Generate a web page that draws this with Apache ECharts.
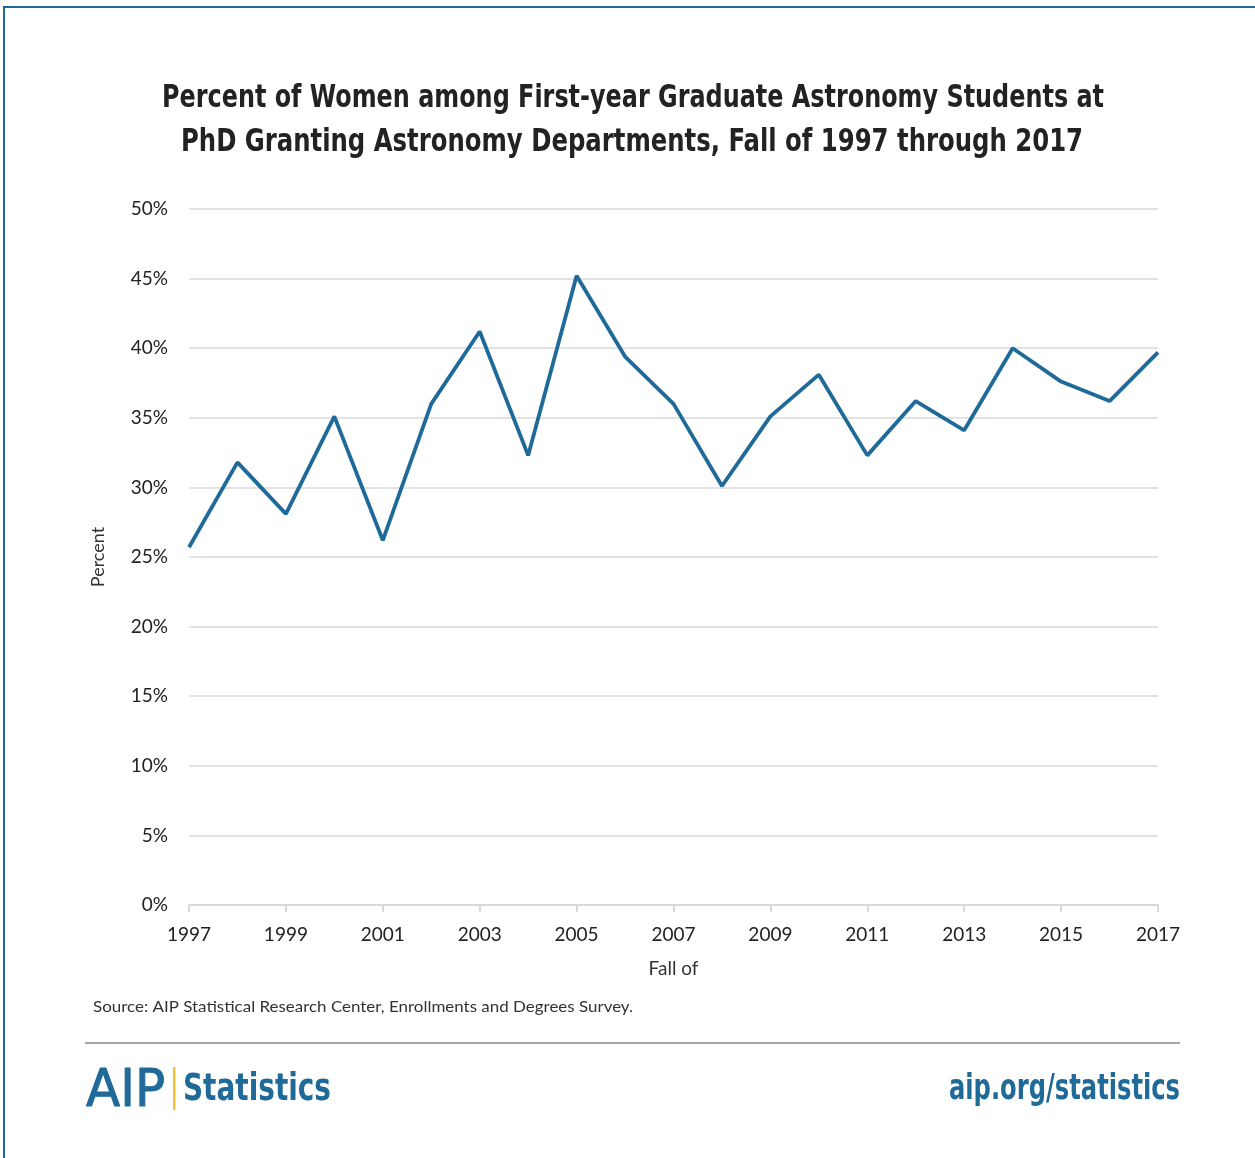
<!DOCTYPE html>
<html>
<head>
<meta charset="utf-8">
<script src="https://cdn.jsdelivr.net/npm/echarts@6/dist/echarts.min.js"></script>
<style>
  html, body { margin: 0; padding: 0; background: #fff; }
  #chart { width: 1255px; height: 1158px; }
</style>
</head>
<body>
<div id="chart"></div>
<script>
// Fall enrollment years
const years = ['1997','1998','1999','2000','2001','2002','2003','2004','2005','2006','2007',
               '2008','2009','2010','2011','2012','2013','2014','2015','2016','2017'];
// Percent of women among first-year graduate astronomy students
const womenPct = [25.7, 31.8, 28.1, 35.1, 26.2, 36.0, 41.2, 32.3, 45.2, 39.4, 36.0,
                  30.1, 35.1, 38.1, 32.3, 36.2, 34.1, 40.0, 37.6, 36.2, 39.7];

const titleLines = [
  'Percent of Women among First-year Graduate Astronomy Students at',
  'PhD Granting Astronomy Departments, Fall of 1997 through 2017'
];
const sourceText = 'Source: AIP Statistical Research Center, Enrollments and Degrees Survey.';

const blue = '#1f6a99';
const condensed = '"DejaVu Sans Condensed", "DejaVu Sans", sans-serif';
const bodyFont = 'Lato, "Open Sans", sans-serif';

// Horizontal squeeze so a condensed-style heading spans the wanted width
const measureCtx = document.createElement('canvas').getContext('2d');
function squeeze(text, font, width) {
  measureCtx.font = font;
  return width / measureCtx.measureText(text).width;
}

const titleFont = 'bold 32px ' + condensed;
const aipFont = '51px "DejaVu Sans", sans-serif';
const statFont = 'bold 37px ' + condensed;
const urlFont = 'bold 35px ' + condensed;

const chart = echarts.init(document.getElementById('chart'));
chart.setOption({
  animation: false,
  backgroundColor: '#fff',
  grid: { left: 189, right: 97, top: 209, bottom: 253, containLabel: false },
  xAxis: {
    type: 'category',
    data: years,
    boundaryGap: false,
    name: 'Fall of',
    nameLocation: 'middle',
    nameGap: 54,
    nameTextStyle: { fontFamily: bodyFont, fontSize: 19, color: '#333' },
    axisLine: { lineStyle: { color: '#d9d9d9', width: 2 } },
    axisTick: { interval: 1, length: 7, lineStyle: { color: '#d9d9d9', width: 2 } },
    axisLabel: { interval: 1, fontFamily: bodyFont, fontSize: 19, color: '#222', margin: 20 }
  },
  yAxis: {
    type: 'value',
    min: 0, max: 50, interval: 5,
    name: 'Percent',
    nameLocation: 'middle',
    nameGap: 82,
    nameRotate: 90,
    nameTextStyle: { fontFamily: bodyFont, fontSize: 18, color: '#333' },
    axisLine: { show: false },
    axisTick: { show: false },
    axisLabel: { formatter: '{value}%', fontFamily: bodyFont, fontSize: 19, color: '#222', margin: 21 },
    splitLine: { lineStyle: { color: '#d9d9d9', width: 1.5 } }
  },
  series: [{
    type: 'line',
    data: womenPct,
    symbol: 'none',
    lineStyle: { color: blue, width: 3.8 },
    itemStyle: { color: blue }
  }],
  graphic: [
    // frame
    { type: 'line', shape: { x1: 3, y1: 7, x2: 1255, y2: 7 }, style: { stroke: blue, lineWidth: 2 } },
    { type: 'line', shape: { x1: 4, y1: 6, x2: 4, y2: 1158 }, style: { stroke: blue, lineWidth: 2 } },
    // title
    { type: 'text', x: 633, y: 83, scaleX: squeeze(titleLines[0], titleFont, 942),
      style: { text: titleLines[0], font: titleFont, fill: '#222', align: 'center', verticalAlign: 'top' } },
    { type: 'text', x: 632, y: 127, scaleX: squeeze(titleLines[1], titleFont, 902),
      style: { text: titleLines[1], font: titleFont, fill: '#222', align: 'center', verticalAlign: 'top' } },
    // source note
    { type: 'text', x: 93, y: 999, scaleX: squeeze(sourceText, '16px ' + bodyFont, 540),
      style: { text: sourceText, font: '16px ' + bodyFont, fill: '#333', verticalAlign: 'top' } },
    // footer rule
    { type: 'line', shape: { x1: 85, y1: 1043, x2: 1180, y2: 1043 }, style: { stroke: '#a6a6a6', lineWidth: 2 } },
    // AIP Statistics mark
    { type: 'text', x: 86, y: 1067, scaleX: squeeze('AIP', aipFont, 79),
      style: { text: 'AIP', font: aipFont, fill: blue, verticalAlign: 'top', stroke: blue, lineWidth: 1 } },
    { type: 'rect', shape: { x: 173, y: 1067, width: 2.5, height: 43 }, style: { fill: '#f5c231' } },
    { type: 'text', x: 183, y: 1072, scaleX: squeeze('Statistics', statFont, 148),
      style: { text: 'Statistics', font: statFont, fill: blue, verticalAlign: 'top' } },
    { type: 'text', x: 1180, y: 1072, scaleX: squeeze('aip.org/statistics', urlFont, 231),
      style: { text: 'aip.org/statistics', font: urlFont, fill: blue, align: 'right', verticalAlign: 'top' } }
  ]
});
</script>
</body>
</html>
